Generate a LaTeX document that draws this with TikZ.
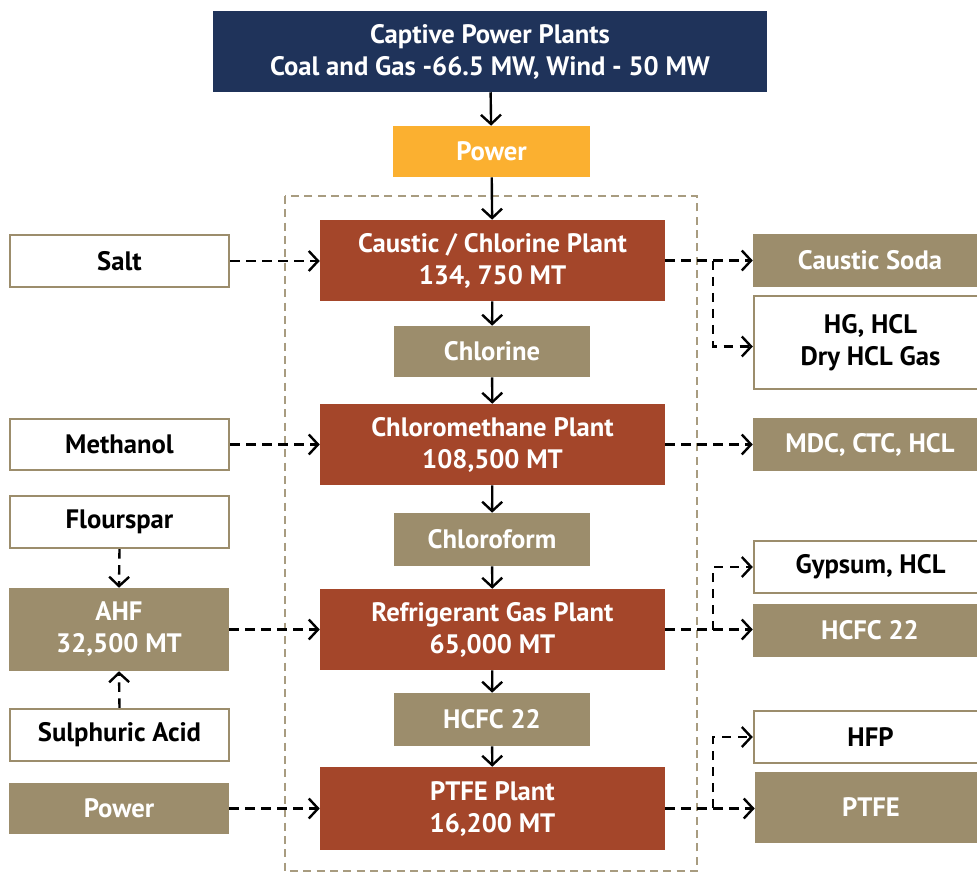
\documentclass[tikz,border=0pt]{standalone}
\usepackage{fontspec}
\setmainfont{PT Sans}
\usetikzlibrary{arrows.meta,calc}
\definecolor{navy}{HTML}{1F335A}
\definecolor{gold}{HTML}{FBB030}
\definecolor{rust}{HTML}{A4462A}
\definecolor{tan}{HTML}{9C8D6C}
\definecolor{frame}{HTML}{A89C80}
\newcommand\mybox[7]{\node[#1, minimum width={(#4-#3)*0.75pt}, minimum height={(#6-#5)*0.75pt}] (#2) at ({(#3+#4)/2},{(#5+#6)/2}) {#7};}
\tikzset{
  x=0.75pt, y=-0.75pt,
  base/.style={rectangle, inner sep=0pt, align=center, font=\fontsize{20}{24}\selectfont\bfseries},
  navybox/.style={base, fill=navy, text=white},
  goldbox/.style={base, fill=gold, text=white},
  plantbox/.style={base, fill=rust, text=white},
  tanbox/.style={base, fill=tan, text=white},
  whitebox/.style={base, fill=white, draw=tan, line width=1.8pt, text=black},
  solidarrow/.style={line width=1.8pt, -{Straight Barb[length=7pt,width=15pt,line width=1.8pt]}},
  dasharrow/.style={line width=1.8pt, dash pattern=on 7pt off 5pt, -{Straight Barb[length=7pt,width=15pt,line width=1.8pt]}},
}
\begin{document}
\begin{tikzpicture}
\useasboundingbox (0,0) rectangle (977,873);
\clip (0,0) rectangle (977,873);
% frame
\draw[frame, line width=1.6pt, dash pattern=on 6pt off 4pt] (285,196) rectangle (697,871);
% central column
\mybox{navybox}{cpp}{213}{767}{11}{92}{Captive Power Plants\\Coal and Gas -66.5 MW, Wind - 50 MW}
\mybox{goldbox}{power}{393}{590}{126}{177}{Power}
\mybox{plantbox}{caustic}{320}{665}{220}{301}{Caustic / Chlorine Plant\\134, 750 MT}
\mybox{tanbox}{chlorine}{394}{590}{326}{377}{Chlorine}
\mybox{plantbox}{chloro}{320}{665}{404}{485}{Chloromethane Plant\\108,500 MT}
\mybox{tanbox}{chloroform}{394}{590}{513}{566}{Chloroform}
\mybox{plantbox}{refrig}{320}{665}{589}{670}{Refrigerant Gas Plant\\65,000 MT}
\mybox{tanbox}{hcfcmid}{394}{590}{693}{746}{HCFC 22}
\mybox{plantbox}{ptfeplant}{320}{665}{767}{850}{PTFE Plant\\16,200 MT}
% left column
\mybox{whitebox}{salt}{10}{229}{235}{287}{Salt}
\mybox{whitebox}{methanol}{10}{229}{419}{470}{Methanol}
\mybox{whitebox}{flour}{10}{229}{496}{548}{Flourspar}
\mybox{tanbox}{ahf}{9}{229}{588}{671}{AHF\\32,500 MT}
\mybox{whitebox}{sulph}{10}{229}{709}{761}{Sulphuric Acid}
\mybox{tanbox}{powerl}{9}{229}{783}{834}{Power}
% right column
\mybox{tanbox}{soda}{753}{987}{234}{287}{Caustic Soda}
\mybox{whitebox}{hg}{754}{987}{296}{389}{HG, HCL\\Dry HCL Gas}
\mybox{tanbox}{mdc}{753}{987}{418}{471}{MDC, CTC, HCL}
\mybox{whitebox}{gyp}{754}{987}{541}{593}{Gypsum, HCL}
\mybox{tanbox}{hcfcr}{753}{987}{604}{657}{HCFC 22}
\mybox{whitebox}{hfp}{754}{987}{711}{763}{HFP}
\mybox{tanbox}{ptfe}{755}{987}{772}{843}{PTFE}
% solid arrows
\draw[solidarrow] (cpp) -- (power);
\draw[solidarrow] (power) -- (caustic);
\draw[solidarrow] (caustic) -- (chlorine);
\draw[solidarrow] (chlorine) -- (chloro);
\draw[solidarrow] (chloro) -- (chloroform);
\draw[solidarrow] (chloroform) -- (refrig);
\draw[solidarrow] (refrig) -- (hcfcmid);
\draw[solidarrow] (hcfcmid) -- (ptfeplant);
% left inputs
\draw[dasharrow] (salt.east) -- (salt.east -| caustic.west);
\draw[dasharrow] (methanol.east) -- (methanol.east -| chloro.west);
\draw[dasharrow] (ahf.east) -- (ahf.east -| refrig.west);
\draw[dasharrow] (powerl.east) -- (powerl.east -| ptfeplant.west);
\draw[dasharrow] (flour.south) -- (ahf.north);
\draw[dasharrow] (sulph.north) -- (ahf.south);
% right outputs
\coordinate (b1) at (713,261);
\coordinate (b3) at (713,630);
\coordinate (b4) at (713,808);
\draw[dasharrow] (caustic.east) -- (caustic.east -| soda.west);
\draw[dasharrow] (b1) |- ([yshift=-3pt]hg.west);
\draw[dasharrow] (chloro.east) -- (chloro.east -| mdc.west);
\draw[dasharrow] (refrig.east) -- (refrig.east -| hcfcr.west);
\draw[dasharrow] (b3) |- (gyp.west);
\draw[dasharrow] (ptfeplant.east) -- (ptfeplant.east -| ptfe.west);
\draw[dasharrow] (b4) |- (hfp.west);
\end{tikzpicture}
\end{document}
